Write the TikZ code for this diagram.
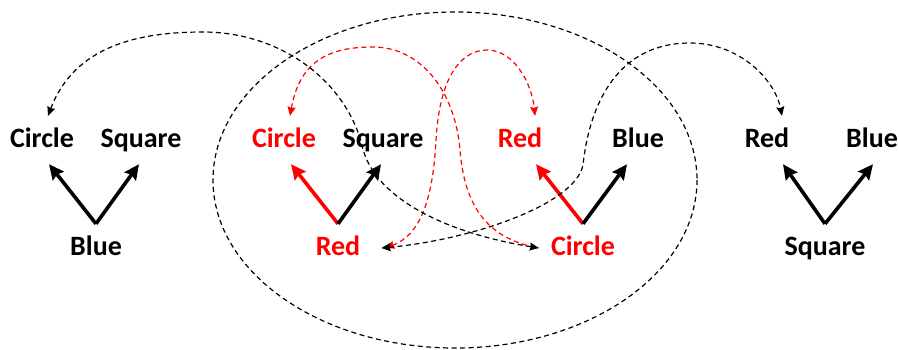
\documentclass[tikz,border=0pt]{standalone}
\usepackage{fontspec}
\setmainfont{Carlito}
\usetikzlibrary{arrows.meta}
\begin{document}
\begin{tikzpicture}[x=1pt, y=-1pt, >={Stealth[length=9pt, width=8pt, inset=1pt]},
  lbl/.style={font=\fontsize{28}{32}\selectfont\bfseries, text height=19pt, text depth=5pt, inner sep=12pt},
  vec/.style={line width=3.6pt, -{Stealth[length=15pt, width=14pt, inset=2pt]}},
  link/.style={line width=1.2pt, dash pattern=on 5pt off 3.5pt}]
\useasboundingbox (0,0) rectangle (899,349);
% left group
\node[lbl] (c1) at (42,140) {Circle};
\node[lbl] (s1) at (141,140) {Square};
\node[lbl] (b1) at (96,248) {Blue};
% middle group
\node[lbl, red] (c2) at (284,140) {Circle};
\node[lbl] (s2) at (383,140) {Square};
\node[lbl, red] (r2) at (338,248) {Red};
\node[lbl, red] (r3) at (520,140) {Red};
\node[lbl] (b3) at (638,140) {Blue};
\node[lbl, red] (c3) at (583,248) {Circle};
% right group
\node[lbl] (r4) at (767,140) {Red};
\node[lbl] (b4) at (872,140) {Blue};
\node[lbl] (s4) at (825,248) {Square};
\draw[vec] (b1.north) -- ([xshift=7pt]c1.south);
\draw[vec] (b1.north) -- ([xshift=-2pt]s1.south);
\draw[vec, red] (r2.north) -- ([xshift=7pt]c2.south);
\draw[vec] (r2.north) -- ([xshift=-2pt]s2.south);
\draw[vec, red] (c3.north) -- ([xshift=16pt]r3.south);
\draw[vec] (c3.north) -- ([xshift=-11pt]b3.south);
\draw[vec] (s4.north) -- ([xshift=16pt]r4.south);
\draw[vec] (s4.north) -- ([xshift=1pt]b4.south);
% dashed links
\draw[link] (455,180) ellipse [x radius=242, y radius=168];
\draw[link, red, <-] ([xshift=6pt]c2.north) .. controls (300,60) and (330,47) .. (373,47)
  .. controls (420,47) and (455,90) .. (460,150) .. controls (465,215) and (495,240) .. (c3.west);
\draw[link, red, <->] ([xshift=13pt]r2.east) .. controls (420,235) and (433,200) .. (436,140)
  .. controls (440,70) and (465,50) .. (487,50) .. controls (515,50) and (532,85) .. ([xshift=15pt]r3.north);
\draw[link, <->] ([xshift=6pt]c1.north) .. controls (75,45) and (140,32) .. (203,32)
  .. controls (280,32) and (345,80) .. (362,145) .. controls (372,195) and (440,232) .. (c3.west);
\draw[link, <->] ([xshift=9pt]r2.east) .. controls (470,240) and (575,205) .. (583,165)
  .. controls (590,100) and (620,43) .. (690,43) .. controls (740,43) and (775,80) .. ([xshift=15pt]r4.north);
\end{tikzpicture}
\end{document}
